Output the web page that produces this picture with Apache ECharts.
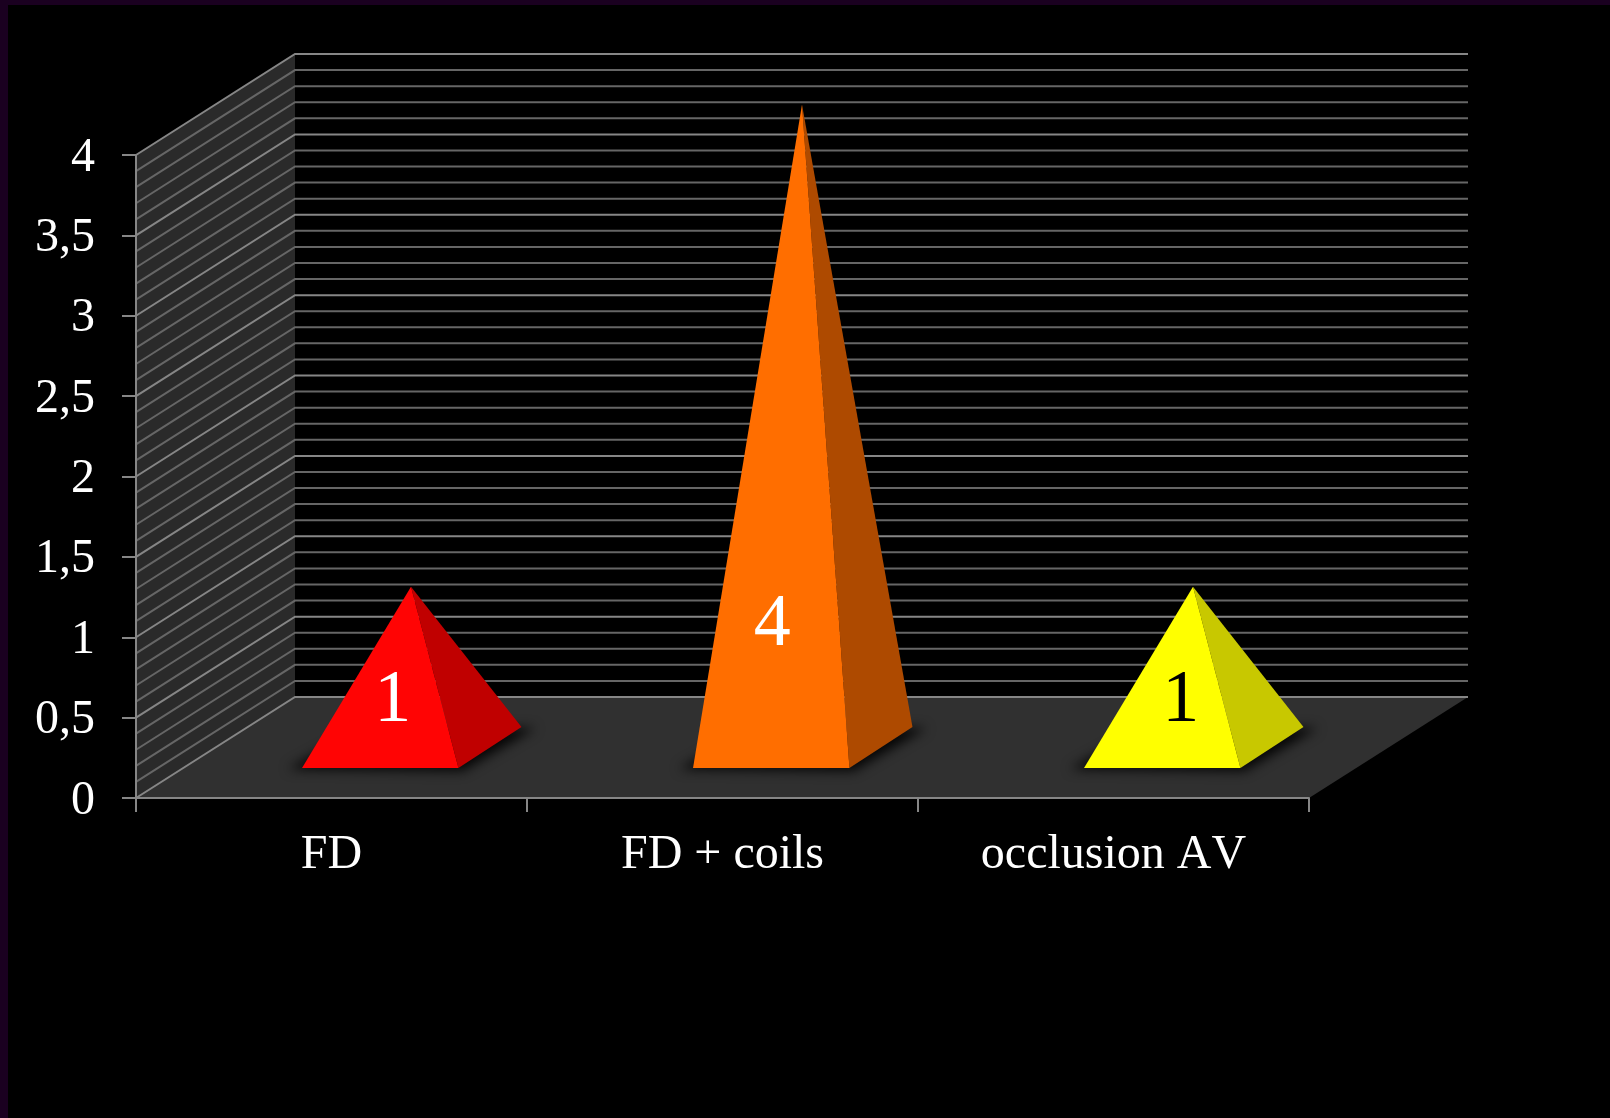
<!DOCTYPE html>
<html>
<head>
<meta charset="utf-8">
<style>
html,body{margin:0;padding:0;width:1610px;height:1118px;background:#1a0020;overflow:hidden}
#bg{position:absolute;left:8px;top:5px;width:1602px;height:1113px;background:#000}
#chart{position:absolute;left:0;top:0;width:1610px;height:1118px}
</style>
<script src="https://cdn.jsdelivr.net/npm/echarts@6/dist/echarts.min.js"></script>
</head>
<body>
<div id="bg"></div>
<div id="chart"></div>
<script>
const categories = ['FD', 'FD + coils', 'occlusion AV'];
const values = [1, 4, 1];
const tickValues = [0, 0.5, 1, 1.5, 2, 2.5, 3, 3.5, 4];
const tickLabels = ['0', '0,5', '1', '1,5', '2', '2,5', '3', '3,5', '4'];
const gridLevels = [0,0.1,0.2,0.3,0.4,0.5,0.6,0.7,0.8,0.9,1,1.1,1.2,1.3,1.4,1.5,1.6,1.7,1.8,1.9,2,2.1,2.2,2.3,2.4,2.5,2.6,2.7,2.8,2.9,3,3.1,3.2,3.3,3.4,3.5,3.6,3.7,3.8,3.9,4];

// styling
const frontColors = ['#ff0404', '#ff6e00', '#ffff00'];
const sideColors = ['#c00000', '#ae4a00', '#c8c800'];
const labelColors = ['#ffffff', '#ffffff', '#000000'];
const labelShift = [[12.5, -66], [1, -142], [18.5, -66]];
const DEPTH_X = 159, DEPTH_Y = 101;
const FRONT = 0.297, BACK = 0.703, HALF = 0.2, NUDGE = 1.5, FAR = 4000;
const SERIF = '"Liberation Serif","Times New Roman",serif';
const LINE = '#868686', MINOR = '#666666';

// the reference text is set without pair kerning
const nativeGetContext = HTMLCanvasElement.prototype.getContext;
HTMLCanvasElement.prototype.getContext = function (kind, opts) {
  const ctx = nativeGetContext.call(this, kind, opts);
  if (kind === '2d' && ctx && 'fontKerning' in ctx) ctx.fontKerning = 'none';
  return ctx;
};

function project(api, x, v, d) {
  const p = api.coord([x, v]);
  return [p[0] + d * DEPTH_X, p[1] - d * DEPTH_Y];
}

function renderShell(params, api) {
  const n = categories.length, top = tickValues[tickValues.length - 1];
  const poly = (pts, fill) => ({ type: 'polygon', shape: { points: pts }, style: { fill: fill } });
  return { type: 'group', children: [
    poly([project(api,0,0,0), project(api,0,0,1), project(api,n,0,1), project(api,n,0,0)], '#303030'),
    poly([project(api,0,0,0), project(api,0,top,0), project(api,0,top,1), project(api,0,0,1)], '#2a2a2a')
  ]};
}

function renderGrid(params, api) {
  const v = api.value(0), n = categories.length;
  const major = Math.abs(v * 2 - Math.round(v * 2)) < 1e-6;
  return { type: 'polyline',
    shape: { points: [project(api,0,v,0), project(api,0,v,1), project(api,n,v,1)] },
    style: { fill: 'none', stroke: major ? LINE : MINOR, lineWidth: 2 } };
}

function renderPyramid(params, api) {
  const i = params.dataIndex, v = api.value(1), c = i + 0.5;
  const L = c - HALF, R = c + HALF;
  const front = (x) => { const p = project(api, x, 0, FRONT); return [p[0] + NUDGE, p[1]]; };
  const fl = front(L), fr = front(R);
  const br = project(api, R, 0, BACK), bl = project(api, L, 0, BACK);
  const apex = project(api, c, v, 0.5);
  const s = labelShift[i];
  const base = front(c);
  // shape sits off canvas so that only its soft shadow lands on the floor
  const shadowPts = [[fl[0] - 14, fl[1] + 1], [fr[0] + 4, fr[1] + 3], [br[0] + 14, br[1] + 1], bl]
    .map(p => [p[0] - FAR, p[1]]);
  return { type: 'group', children: [
    { type: 'polygon', shape: { points: shadowPts },
      style: { fill: '#000', shadowBlur: 12, shadowColor: 'rgba(0,0,0,0.9)', shadowOffsetX: FAR } },
    { type: 'polygon', shape: { points: [apex, fr, br] }, style: { fill: sideColors[i] } },
    { type: 'polygon', shape: { points: [apex, fl, fr] }, style: { fill: frontColors[i] } },
    { type: 'text', x: base[0] + s[0], y: base[1] + s[1],
      style: { text: String(v), fill: labelColors[i], font: '74px ' + SERIF, align: 'center', verticalAlign: 'middle' } }
  ]};
}

const chart = echarts.init(document.getElementById('chart'), null, { renderer: 'canvas' });
chart.setOption({
  backgroundColor: 'transparent',
  animation: false,
  grid: { left: 136, top: 155, width: 1173, height: 643 },
  xAxis: [
    { type: 'category', data: categories, boundaryGap: true,
      axisLine: { lineStyle: { color: LINE, width: 2 } },
      axisTick: { show: true, alignWithLabel: false, length: 14, lineStyle: { color: LINE, width: 2 } },
      axisLabel: { color: '#ffffff', fontFamily: SERIF, fontSize: 48, margin: 33, interval: 0 },
      z: 5 },
    { type: 'value', min: 0, max: categories.length, show: false }
  ],
  yAxis: { type: 'value', min: 0, max: 4, interval: 0.5,
    axisLine: { show: true, lineStyle: { color: LINE, width: 2 } },
    axisTick: { show: true, length: 14, lineStyle: { color: LINE, width: 2 } },
    splitLine: { show: false },
    axisLabel: { color: '#ffffff', fontFamily: SERIF, fontSize: 48, margin: 41, verticalAlign: 'top', lineHeight: 6,
      formatter: v => tickLabels[tickValues.indexOf(v)] },
    z: 5 },
  series: [
    { type: 'custom', name: 'shell', xAxisIndex: 1, yAxisIndex: 0, z: 1, silent: true, clip: false,
      data: [[0, 0]], renderItem: renderShell },
    { type: 'custom', name: 'grid', xAxisIndex: 1, yAxisIndex: 0, z: 2, silent: true, clip: false,
      data: gridLevels.map(v => [v]), encode: { y: 0 }, renderItem: renderGrid },
    { type: 'custom', name: 'values', xAxisIndex: 1, yAxisIndex: 0, z: 3, clip: false,
      data: values.map((v, i) => [i + 0.5, v]), renderItem: renderPyramid }
  ]
});
</script>
</body>
</html>
